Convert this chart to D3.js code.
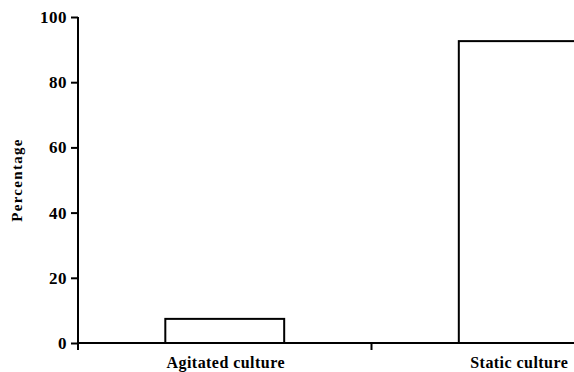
<!DOCTYPE html>
<html><head><meta charset="utf-8">
<script src="https://cdn.jsdelivr.net/npm/d3@7"></script>
<style>body{margin:0;background:#fff}svg{display:block}svg text{font-family:"Liberation Serif","DejaVu Serif",serif;}</style>
</head><body>
<svg id="c" width="574" height="372"></svg>
<script>
const categories = ["Agitated culture", "Static culture"];
const values = [7.4, 92.6];
const yTicks = [0, 20, 40, 60, 80, 100];

const svg = d3.select("#c");
const x0 = 78, y0 = 343, yTop = 17, xEnd = 665;
const x = d3.scaleBand().domain(categories).range([x0, xEnd]).paddingInner(0.595).paddingOuter(0.2975);
const y = d3.scaleLinear().domain([0, 100]).range([y0, yTop]);

// bars
svg.selectAll("rect.bar").data(values).join("rect")
  .attr("x", (d, i) => x(categories[i]))
  .attr("width", x.bandwidth())
  .attr("y", d => y(d))
  .attr("height", d => y(0) - y(d))
  .attr("fill", "#fff").attr("stroke", "#000").attr("stroke-width", 2);

// y axis
const ya = svg.append("g").attr("transform", `translate(${x0},0)`)
  .call(d3.axisLeft(y).tickValues(yTicks).tickSize(7).tickPadding(4));
ya.attr("font-family", null).attr("font-size", null);
ya.select(".domain").attr("stroke-width", 2).attr("d", `M-0,${yTop}V${y0 + 7}`);
ya.selectAll(".tick line").attr("stroke-width", 2);
ya.selectAll(".tick text").style("font-size", "17px").style("font-weight", "bold")
  .style("letter-spacing", "0.5px").attr("fill", "#000");

// x axis
const step = x.step();
const boundaries = d3.range(categories.length + 1).map(i => x0 + i * step);
svg.append("line").attr("x1", x0).attr("x2", xEnd).attr("y1", y0).attr("y2", y0)
  .attr("stroke", "#000").attr("stroke-width", 2);
svg.selectAll("line.xt").data(boundaries).join("line").attr("class", "xt")
  .attr("x1", d => d).attr("x2", d => d).attr("y1", y0).attr("y2", y0 + 7)
  .attr("stroke", "#000").attr("stroke-width", 2);
svg.selectAll("text.xl").data(categories).join("text").attr("class", "xl")
  .attr("x", d => x(d) + x.bandwidth() / 2 + 1).attr("y", 368)
  .attr("text-anchor", "middle").style("font-size", "16px").style("font-weight", "bold")
  .style("letter-spacing", "0.45px")
  .text(d => d);

// y label
svg.append("text").attr("transform", `translate(22,${(y0 + yTop) / 2}) rotate(-90)`)
  .attr("text-anchor", "middle").style("font-size", "15px").style("font-weight", "bold")
  .style("letter-spacing", "1.3px")
  .text("Percentage");
</script>
</body></html>
